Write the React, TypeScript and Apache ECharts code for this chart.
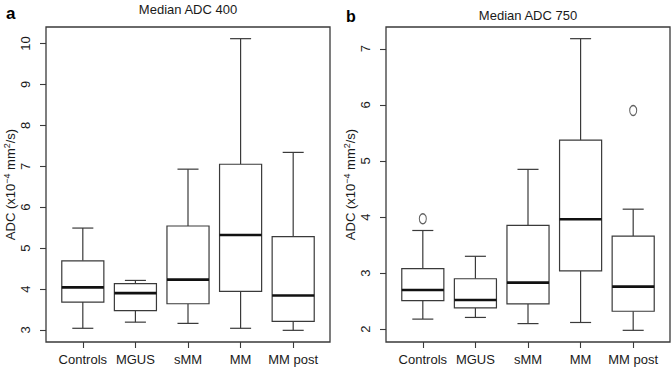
import React, { useEffect, useRef } from "react";
import * as echarts from "echarts";

const categories = ["Controls", "MGUS", "sMM", "MM", "MM post"];
const categoryPositions = [1, 2, 3, 4, 5];

// Median ADC 400
const adc400Lower = [3.04, 3.19, 3.16, 3.04, 2.99];
const adc400Q1 = [3.68, 3.47, 3.64, 3.94, 3.21];
const adc400Median = [4.04, 3.9, 4.23, 5.32, 3.84];
const adc400Q3 = [4.69, 4.13, 5.54, 7.05, 5.28];
const adc400Upper = [5.49, 4.21, 6.93, 10.12, 7.34];
const adc400OutlierCategory: number[] = [];
const adc400OutlierValue: number[] = [];
const yTicks400 = [3, 4, 5, 6, 7, 8, 9, 10];

// Median ADC 750
const adc750Lower = [2.18, 2.21, 2.1, 2.12, 1.98];
const adc750Q1 = [2.51, 2.38, 2.45, 3.04, 2.32];
const adc750Median = [2.7, 2.52, 2.83, 3.96, 2.76];
const adc750Q3 = [3.08, 2.9, 3.85, 5.37, 3.66];
const adc750Upper = [3.76, 3.3, 4.85, 7.18, 4.14];
const adc750OutlierCategory = [1, 5];
const adc750OutlierValue = [3.97, 5.9];
const yTicks750 = [2, 3, 4, 5, 6, 7];

const FONT = "Liberation Sans, Arial, Helvetica, sans-serif";
const LINE = "#3a3a3a";
const TEXT = "#1a1a1a";

function buildRows(lo: number[], q1: number[], med: number[], q3: number[], hi: number[]) {
  return categoryPositions.map((x, i) => [x, lo[i], q1[i], med[i], q3[i], hi[i]]);
}

function rExtent(values: number[]) {
  const lo = Math.min(...values);
  const hi = Math.max(...values);
  const pad = (hi - lo) * 0.04;
  return [lo - pad, hi + pad];
}

const renderBox = (params: any, api: any) => {
  const x = api.value(0);
  const lo = api.value(1);
  const q1 = api.value(2);
  const med = api.value(3);
  const q3 = api.value(4);
  const hi = api.value(5);
  const half = 0.4;
  const cap = 0.2;
  const p = (a: number, b: number) => api.coord([a, b]);
  const ls = { stroke: LINE, lineWidth: 1.2, fill: "none" };
  const tl = p(x - half, q3);
  const br = p(x + half, q1);
  return {
    type: "group",
    children: [
      { type: "line", shape: { x1: p(x, hi)[0], y1: p(x, hi)[1], x2: p(x, q3)[0], y2: p(x, q3)[1] }, style: ls },
      { type: "line", shape: { x1: p(x, q1)[0], y1: p(x, q1)[1], x2: p(x, lo)[0], y2: p(x, lo)[1] }, style: ls },
      { type: "line", shape: { x1: p(x - cap, hi)[0], y1: p(x - cap, hi)[1], x2: p(x + cap, hi)[0], y2: p(x + cap, hi)[1] }, style: ls },
      { type: "line", shape: { x1: p(x - cap, lo)[0], y1: p(x - cap, lo)[1], x2: p(x + cap, lo)[0], y2: p(x + cap, lo)[1] }, style: ls },
      { type: "rect", shape: { x: tl[0], y: tl[1], width: br[0] - tl[0], height: br[1] - tl[1] }, style: { stroke: LINE, lineWidth: 1.2, fill: "#fff" } },
      { type: "line", shape: { x1: p(x - half, med)[0], y1: p(x - half, med)[1], x2: p(x + half, med)[0], y2: p(x + half, med)[1] }, style: { stroke: "#111", lineWidth: 2.6 } },
    ],
  };
};

function xAxisFor(gridIndex: number) {
  return {
    type: "value",
    gridIndex,
    min: 0.3,
    max: 5.7,
    axisLine: { show: false },
    splitLine: { show: false },
    axisTick: { show: true, inside: false, length: 6, customValues: categoryPositions, lineStyle: { color: LINE, width: 1.1 } },
    axisLabel: {
      customValues: categoryPositions,
      formatter: (v: number) => categories[Math.round(v) - 1] ?? "",
      fontSize: 13,
      fontFamily: FONT,
      color: TEXT,
      margin: 11,
    },
  };
}

function yAxisFor(gridIndex: number, ticks: number[], ext: number[]) {
  return {
    type: "value",
    gridIndex,
    min: ext[0],
    max: ext[1],
    axisLine: { show: false },
    splitLine: { show: false },
    axisTick: { show: true, inside: false, length: 6, customValues: ticks, lineStyle: { color: LINE, width: 1.1 } },
    axisLabel: {
      customValues: ticks,
      rotate: 90,
      fontSize: 13,
      fontFamily: FONT,
      color: TEXT,
      margin: 14,
    },
    name: "{m|ADC (x10}{s|−4}{m| mm}{s|2}{m|/s)}",
    nameLocation: "middle",
    nameRotate: 90,
    nameGap: 27,
    nameTextStyle: {
      fontFamily: FONT,
      color: TEXT,
      rich: {
        m: { fontSize: 13, fontFamily: FONT, color: TEXT, lineHeight: 16 },
        s: { fontSize: 9, fontFamily: FONT, color: TEXT, padding: [0, 0, 8, 0] },
      },
    },
  };
}

export default function App() {
  const ref = useRef<HTMLDivElement>(null);
  useEffect(() => {
    if (!ref.current) return;
    const chart = echarts.init(ref.current, undefined, { renderer: "svg" });
    const rows400 = buildRows(adc400Lower, adc400Q1, adc400Median, adc400Q3, adc400Upper);
    const rows750 = buildRows(adc750Lower, adc750Q1, adc750Median, adc750Q3, adc750Upper);
    const ext400 = rExtent([...adc400Lower, ...adc400Upper, ...adc400OutlierValue]);
    const ext750 = rExtent([...adc750Lower, ...adc750Upper, ...adc750OutlierValue]);
    const out400 = adc400OutlierCategory.map((c, i) => [c, adc400OutlierValue[i]]);
    const out750 = adc750OutlierCategory.map((c, i) => [c, adc750OutlierValue[i]]);
    const gridStyle = { show: true, borderColor: LINE, borderWidth: 1.3, backgroundColor: "transparent", containLabel: false };
    chart.setOption({
      animation: false,
      backgroundColor: "#fff",
      grid: [
        { ...gridStyle, left: 46, top: 27, width: 284, height: 315 },
        { ...gridStyle, left: 386, top: 27, width: 284, height: 315 },
      ],
      xAxis: [xAxisFor(0), xAxisFor(1)],
      yAxis: [yAxisFor(0, yTicks400, ext400), yAxisFor(1, yTicks750, ext750)],
      graphic: [
        { type: "text", x: 188, y: 9, style: { text: "Median ADC 400", fontSize: 13, fontFamily: FONT, fill: TEXT, textAlign: "center", textVerticalAlign: "middle" } },
        { type: "text", x: 528, y: 15.5, style: { text: "Median ADC 750", fontSize: 13, fontFamily: FONT, fill: TEXT, textAlign: "center", textVerticalAlign: "middle" } },
        { type: "text", x: 6, y: 13, style: { text: "a", fontSize: 17, fontWeight: "bold", fontFamily: FONT, fill: "#000", textAlign: "left", textVerticalAlign: "middle" } },
        { type: "text", x: 346, y: 16, style: { text: "b", fontSize: 16, fontWeight: "bold", fontFamily: FONT, fill: "#000", textAlign: "left", textVerticalAlign: "middle" } },
      ],
      series: [
        { type: "custom", xAxisIndex: 0, yAxisIndex: 0, renderItem: renderBox, data: rows400, encode: { x: 0, y: [1, 2, 3, 4, 5] }, clip: false },
        { type: "custom", xAxisIndex: 1, yAxisIndex: 1, renderItem: renderBox, data: rows750, encode: { x: 0, y: [1, 2, 3, 4, 5] }, clip: false },
        { type: "scatter", xAxisIndex: 0, yAxisIndex: 0, data: out400, symbol: "circle", symbolSize: [7, 10], itemStyle: { color: "transparent", borderColor: LINE, borderWidth: 1.2 } },
        { type: "scatter", xAxisIndex: 1, yAxisIndex: 1, data: out750, symbol: "circle", symbolSize: [7, 10], itemStyle: { color: "transparent", borderColor: LINE, borderWidth: 1.2 } },
      ],
    });
    return () => chart.dispose();
  }, []);
  return <div ref={ref} style={{ position: "fixed", left: 0, top: 0, width: 672, height: 368 }} />;
}
